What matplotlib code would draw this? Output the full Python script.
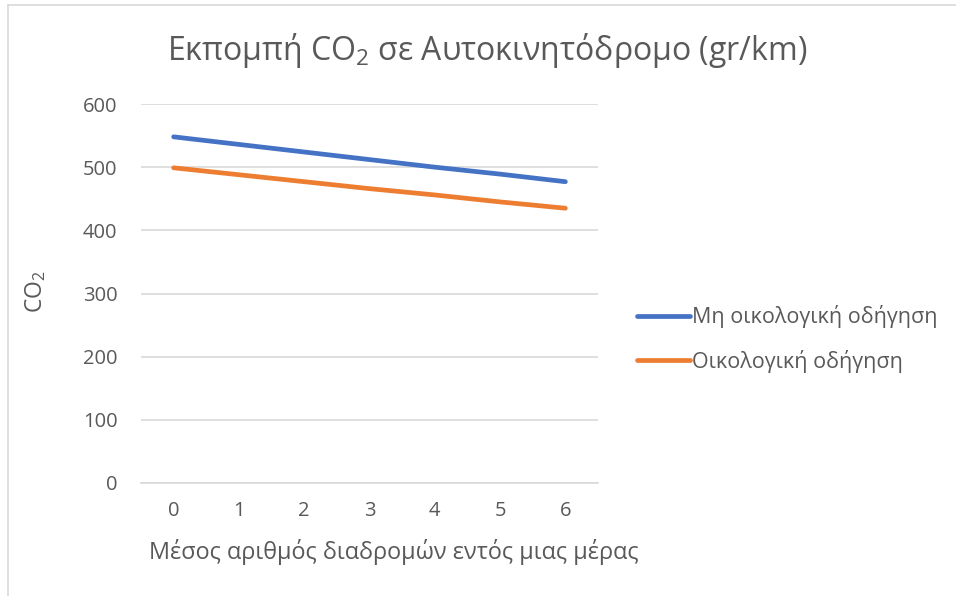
import matplotlib
matplotlib.use("Agg")
import matplotlib.pyplot as plt
from matplotlib.lines import Line2D

plt.rcParams['font.family'] = ['Open Sans', 'DejaVu Sans']
plt.rcParams['mathtext.default'] = 'regular'

x_values = [0, 1, 2, 3, 4, 5, 6]
non_eco = [548, 536, 524, 512, 500, 489, 477]
eco = [499, 488, 477, 466, 456, 445, 435]
series_names = ["Μη οικολογική οδήγηση", "Οικολογική οδήγηση"]
title = "Εκπομπή CO$_2$ σε Αυτοκινητόδρομο (gr/km)"
xlabel = "Μέσος αριθμός διαδρομών εντός μιας μέρας"
ylabel = "CO$_2$"
yticks = [0, 100, 200, 300, 400, 500, 600]

W, H = 956, 596
TXT = '#595959'
fig = plt.figure(figsize=(W/100, H/100), dpi=100)
ax = fig.add_axes([141/W, 1-483/H, (598-141)/W, (483-104)/H])

ax.plot(x_values, non_eco, color='#4472C4', lw=3.4, solid_capstyle='round', label=series_names[0])
ax.plot(x_values, eco, color='#ED7D31', lw=3.4, solid_capstyle='round', label=series_names[1])

ax.set_xlim(-0.5, 6.5)
ax.set_ylim(0, 600)
ax.set_yticks(yticks)
ax.set_xticks(x_values)
ax.grid(axis='y', color='#D9D9D9', lw=1.2)
ax.set_axisbelow(True)
for s in ['top', 'right', 'left']:
    ax.spines[s].set_visible(False)
ax.spines['bottom'].set_color('#D9D9D9')
ax.spines['bottom'].set_linewidth(1.2)
ax.tick_params(length=0, labelsize=14.5, colors=TXT)
ax.tick_params(axis='x', pad=13)
ax.tick_params(axis='y', pad=17)

fig.text(487/W, 1-50/H, title, ha='center', va='center', fontsize=23, color=TXT)
fig.text(394/W, 1-552/H, xlabel, ha='center', va='center', fontsize=16.9, color=TXT)
fig.text(36/W, 1-292/H, ylabel, ha='center', va='center', rotation=90, fontsize=16.5, color=TXT)

leg = fig.legend(handles=ax.get_lines(), loc='center left', bbox_to_anchor=(637/W, 1-339/H),
                 frameon=False, fontsize=15.5, labelcolor=TXT, handlelength=2.45,
                 handletextpad=0.1, labelspacing=1.0, borderpad=0, borderaxespad=0)

# chart border (top and left edges visible)
fig.add_artist(Line2D([8/W, 1], [1-5/H, 1-5/H], transform=fig.transFigure, color='#D9D9D9', lw=1.2))
fig.add_artist(Line2D([8/W, 8/W], [0, 1-5/H], transform=fig.transFigure, color='#D9D9D9', lw=1.2))

fig.savefig('out.png', dpi=100)
